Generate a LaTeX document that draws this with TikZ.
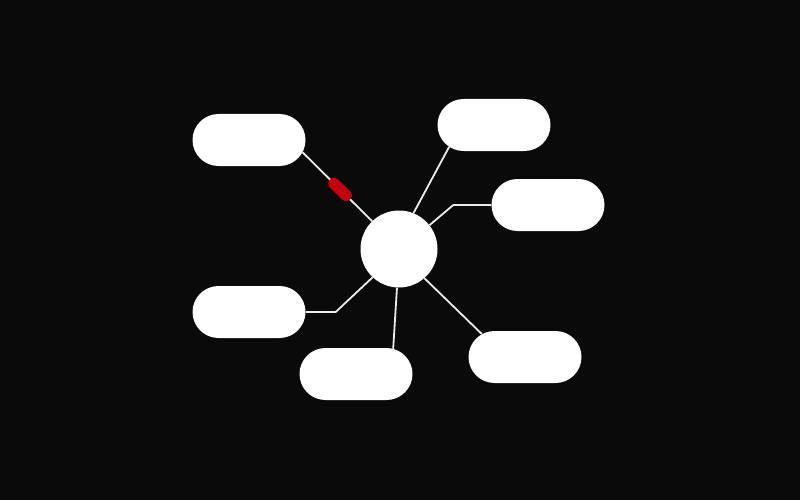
\documentclass[tikz,border=0pt]{standalone}
\usetikzlibrary{shapes.misc,calc}
\definecolor{bgdark}{HTML}{0A0A0A}
\definecolor{markred}{HTML}{C00010}
\tikzset{
  pill/.style={rounded rectangle, fill=white, draw=none,
    minimum width=113pt, minimum height=52pt, inner sep=0pt},
  hubnode/.style={circle, fill=white, draw=none, minimum size=77pt, inner sep=0pt},
  link/.style={draw=white!92!black, line width=1.8pt}
}
\begin{document}
\begin{tikzpicture}[x=1pt,y=-1pt]
    \fill[bgdark] (0,0) rectangle (800,500);
    \useasboundingbox (0,0) rectangle (800,500);
    \node[hubnode] (hub) at (399,249) {};
    \node[pill] (topleft) at (249,140) {};
    \node[pill] (topright) at (494,125) {};
    \node[pill] (right) at (548,205) {};
    \node[pill] (lowleft) at (249,312) {};
    \node[pill] (bottom) at (356,374) {};
    \node[pill] (lowright) at (525,357) {};
    \draw[link] (hub.134) -- coordinate[pos=0.46] (mark) (topleft.-13.5);
    \draw[link] (hub.68) -- (topright.206);
    \draw[link] (right.west) -- ++(-38,0) coordinate (bendr) -- (hub.38);
    \draw[link] (lowleft.east) -- ++(30,0) coordinate (bendl) -- (hub.227);
    \draw[link] (hub.267) -- ($(bottom.north)+(37,4)$);
    \draw[link] (hub.311) -- (lowright.152);
    \draw[markred, line width=11.5pt, line cap=round]
        ($(mark)+(-6,-5.8)$) -- ($(mark)+(6,5.8)$);
\end{tikzpicture}
\end{document}
